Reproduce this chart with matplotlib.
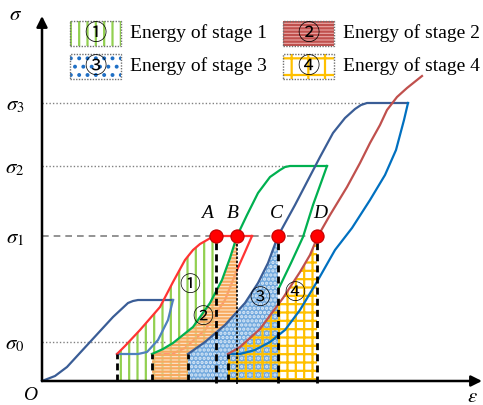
import matplotlib
matplotlib.use('Agg')
import matplotlib.pyplot as plt
from matplotlib.patches import Rectangle

plt.rcParams['font.family'] = ['Liberation Serif', 'DejaVu Serif']
plt.rcParams['mathtext.fontset'] = 'stix'
plt.rcParams['hatch.linewidth'] = 1.6
plt.rcParams['lines.solid_joinstyle'] = 'round'

# stress levels
sig_levels = [39, 145, 215, 278]
sig_names = [r'$\sigma_0$', r'$\sigma_1$', r'$\sigma_2$', r'$\sigma_3$']
sig_ends = [123, 276, 246, 323]
base = 27

# loading / unloading cycles (strain, stress)
eps1 = [0, 13, 25, 48, 71, 86, 91, 96, 131]
sig1 = [0, 5, 14, 39, 64, 78, 80, 81, 81]
eps1u = [131, 126, 116, 105, 96, 75]
sig1u = [81, 61, 41, 29, 27, 27]

eps2 = [75, 83, 98, 118, 131, 143, 151, 158, 165, 170, 174, 210]
sig2 = [27, 35, 51, 74, 99, 121, 131, 137, 141, 144, 145, 145]
eps2u = [210, 203, 195, 183, 163, 143, 130, 110]
sig2u = [145, 129, 111, 81, 51, 33, 27, 27]

eps3 = [110, 121, 131, 151, 168, 180, 188, 195, 205, 216, 228, 238, 243, 248, 285]
sig3 = [27, 32, 38, 54, 78, 101, 123, 145, 166, 188, 204, 211, 214, 215, 215]
eps3u = [285, 280, 271, 261, 249, 236, 220, 203, 183, 168, 146]
sig3u = [215, 201, 176, 144, 118, 91, 71, 51, 35, 27, 27]

eps4 = [146, 163, 183, 203, 216, 226, 236, 253, 266, 278, 291, 303, 313, 319, 325, 366]
sig4 = [27, 39, 56, 78, 98, 118, 145, 176, 201, 224, 248, 263, 272, 276, 278, 278]
eps4u = [366, 362, 354, 343, 328, 310, 293, 276, 258, 243, 228, 213, 198, 186]
sig4u = [278, 261, 231, 206, 181, 153, 131, 101, 71, 51, 39, 31, 27, 27]

eps5 = [186, 198, 218, 241, 258, 268, 276, 288, 305, 318, 328, 338, 345, 355, 365, 380]
sig5 = [27, 34, 52, 83, 109, 126, 145, 166, 194, 218, 238, 256, 271, 284, 293, 305]

# points where sigma_1 is reached
pt_names = ['A', 'B', 'C', 'D']
pt_eps = [174, 195, 236, 275]

fig = plt.figure(figsize=(4.83, 4.05), dpi=100)
ax = fig.add_axes([0, 0, 1, 1])
ax.set_xlim(-42, 441)
ax.set_ylim(-24, 381)
ax.axis('off')

# energy areas
fills = [
    (eps2, sig2, pt_eps[0], dict(facecolor='none', edgecolor='#92d050', hatch='||')),
    (eps3, sig3, pt_eps[1], dict(facecolor=(0.99, 0.84, 0.68, 0.6), edgecolor='#f7aa60', hatch='-----')),
    (eps4, sig4, pt_eps[2], dict(facecolor='#72a9de', edgecolor='#dceaf7', hatch='....')),
    (eps5, sig5, pt_eps[3], dict(facecolor='none', edgecolor='#ffc000', hatch='++')),
]
for e, s, x1, kw in fills:
    pc = ax.fill_between(e, s, 0, linewidth=0, zorder=2, **kw)
    pc.set_clip_path(Rectangle((e[0], 0), x1 - e[0], 400, transform=ax.transData))

# reference levels
for lev, name, xe in zip(sig_levels, sig_names, sig_ends):
    ls = (0, (4, 3)) if name == r'$\sigma_1$' else (0, (1, 1.5))
    lw = 1.2 if name == r'$\sigma_1$' else 1.0
    ax.plot([0, xe], [lev, lev], color='#808080', lw=lw, ls=ls, zorder=1)
    ax.text(-27, lev - 3, name, fontsize=15, ha='center', va='center')

# curves
ax.plot(eps1, sig1, color='#3a5d96', lw=1.6, zorder=3)
ax.plot(eps1u, sig1u, color='#4f81bd', lw=1.6, zorder=3)
ax.plot(eps2, sig2, color='#ff3333', lw=1.6, zorder=3)
ax.plot(eps2u, sig2u, color='#ff3333', lw=1.6, zorder=1.5)
ax.plot(eps3, sig3, color='#00b050', lw=1.6, zorder=3)
ax.plot(eps3u, sig3u, color='#00b050', lw=1.6, zorder=1.5)
ax.plot(eps4, sig4, color='#3a5d96', lw=1.6, zorder=3)
ax.plot(eps4u, sig4u, color='#0070c0', lw=1.6, zorder=3)
ax.plot(eps5, sig5, color='#c0504d', lw=1.6, zorder=3)

# dashed verticals at cycle starts and at A-D
for x0 in [eps2[0], eps3[0], eps4[0], eps5[0]]:
    ax.plot([x0, x0], [0, base], color='k', lw=2, ls=(0, (2.5, 1.5)), zorder=4)
for i, x0 in enumerate(pt_eps):
    if i == 1:
        ax.plot([x0, x0], [-3, sig_levels[1]], color='k', lw=1.2, ls=(0, (1.5, 1)), zorder=4)
    else:
        ax.plot([x0, x0], [-2, sig_levels[1]], color='k', lw=2, ls=(0, (2.5, 1.5)), zorder=4)

ax.scatter(pt_eps, [sig_levels[1]] * 4, s=90, color='#ff0000', edgecolor='#c00000', lw=0.8, zorder=5)
for name, x0, dx in zip(pt_names, pt_eps, [-9, -4, -2, 3]):
    ax.text(x0 + dx, sig_levels[1] + 22, name, fontsize=14,
            style='italic', ha='center', va='center')

# circled stage numbers
circ = ['\u2460', '\u2461', '\u2462', '\u2463']
circ_xy = [(148, 96), (161, 64), (218, 83), (253, 88)]
for c, (x, y) in zip(circ, circ_xy):
    ax.text(x, y, c, fontsize=15, ha='center', va='center', zorder=6,
            family=['Noto Sans CJK JP', 'DejaVu Sans'])

# axes with arrows
ax.annotate('', xy=(0, 365), xytext=(0, 0),
            arrowprops=dict(arrowstyle='-|>', color='k', lw=1.8, mutation_scale=16, shrinkA=0, shrinkB=0))
ax.annotate('', xy=(440, 0), xytext=(0, 0),
            arrowprops=dict(arrowstyle='-|>', color='k', lw=1.8, mutation_scale=16, shrinkA=0, shrinkB=0))
ax.text(-26, 366, r'$\sigma$', fontsize=15, ha='center', va='center')
ax.text(-12, -15, 'O', fontsize=14, style='italic', ha='center', va='center')
ax.text(430, -16, r'$\varepsilon$', fontsize=15, ha='center', va='center')

# legend
leg_labels = ['Energy of stage 1', 'Energy of stage 2', 'Energy of stage 3', 'Energy of stage 4']
leg_boxes = [(28, 335), (241, 335), (28, 302), (241, 302)]
leg_style = [
    dict(facecolor='white', edgecolor='#92d050', hatch='||'),
    dict(facecolor='#e9a8a6', edgecolor='#c0504d', hatch='-----'),
    dict(facecolor='white', edgecolor='#1f6fc5', hatch='..'),
    dict(facecolor='white', edgecolor='#ffc000', hatch='+'),
]
for lab, (x, y), st, c in zip(leg_labels, leg_boxes, leg_style, circ):
    ax.add_patch(Rectangle((x, y), 51, 25, linewidth=0, zorder=2, **st))
    ax.add_patch(Rectangle((x, y), 51, 25, facecolor='none', edgecolor='#707070',
                           lw=1, ls=(0, (1, 1)), zorder=3))
    ax.text(x + 25.5, y + 12.5, c, fontsize=16, ha='center', va='center', zorder=4,
            family=['Noto Sans CJK JP', 'DejaVu Sans'])
    ax.text(x + 60, y + 12.5, lab, fontsize=14, ha='left', va='center')

fig.savefig('out.png', dpi=100)
